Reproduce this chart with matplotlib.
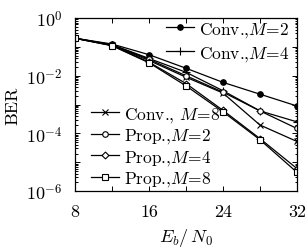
import numpy as np
import matplotlib
matplotlib.use("Agg")
import matplotlib.pyplot as plt
import matplotlib.ticker as ticker

plt.rcParams['mathtext.fontset'] = 'cm'
plt.rcParams['font.family'] = ['cmr10', 'DejaVu Serif']
plt.rcParams['axes.formatter.use_mathtext'] = True

snr = [8, 12, 16, 20, 24, 28, 32]

# log10(BER)
conv_m2 = [-0.70, -0.90, -1.27, -1.74, -2.23, -2.64, -3.05]
conv_m4 = [-0.70, -0.92, -1.40, -1.88, -2.52, -3.22, -3.60]
conv_m8 = [-0.70, -0.95, -1.47, -2.05, -2.60, -3.71, -4.28]
prop_m2 = [-0.70, -0.93, -1.43, -2.00, -2.57, -3.22, -3.83]
prop_m4 = [-0.70, -0.95, -1.53, -2.27, -3.20, -4.18, -5.22]
prop_m8 = [-0.70, -0.96, -1.55, -2.35, -3.25, -4.22, -5.35]

xticks = [8, 12, 16, 20, 24, 28, 32]
xlabels = ['8', '', '16', '', '24', '', '32']

fig = plt.figure(figsize=(3.08, 2.51), dpi=100)
ax = fig.add_axes([0.2435, 0.235, 0.7205, 0.689])

kw = dict(color='black', lw=0.9, ms=4, mew=0.8)
p1, = ax.semilogy(snr, 10 ** np.array(conv_m2), marker='o', mfc='black', **kw)
p2, = ax.semilogy(snr, 10 ** np.array(conv_m4), marker='+', ms=6, color='black', lw=0.9, mew=0.8)
p3, = ax.semilogy(snr, 10 ** np.array(conv_m8), marker='x', **kw)
p4, = ax.semilogy(snr, 10 ** np.array(prop_m2), marker='o', mfc='white', **kw)
p5, = ax.semilogy(snr, 10 ** np.array(prop_m4), marker='D', ms=3.5, mfc='white', color='black', lw=0.9, mew=0.8)
p6, = ax.semilogy(snr, 10 ** np.array(prop_m8), marker='s', mfc='white', **kw)

ax.set_xlim(8, 32)
ax.set_ylim(1e-6, 1)
ax.set_xticks(xticks)
ax.set_xticklabels(xlabels, fontsize=13)
ax.set_yticks([1e0, 1e-1, 1e-2, 1e-3, 1e-4, 1e-5, 1e-6])
ax.set_yticklabels(['$10^{0}$', '', '$10^{-2}$', '', '$10^{-4}$', '', '$10^{-6}$'], fontsize=13)
ax.yaxis.set_minor_locator(ticker.LogLocator(base=10, subs=np.arange(2, 10), numticks=20))
ax.yaxis.set_minor_formatter(ticker.NullFormatter())
ax.tick_params(which='both', direction='in', top=True, right=True, width=0.7)
ax.tick_params(which='major', length=3.5)
ax.tick_params(axis='x', which='major', pad=9)
ax.tick_params(axis='y', which='major', pad=9)
ax.tick_params(which='minor', length=1.8)
for s in ax.spines.values():
    s.set_linewidth(0.9)

ax.set_xlabel('$E_b/\\,N_0$', fontsize=13, labelpad=5)
ax.set_ylabel('BER', fontsize=13, labelpad=4)

leg1 = ax.legend([p1, p2], ['Conv.,$M\\!=\\!2$', 'Conv.,$M\\!=\\!4$'],
                 loc='upper right', frameon=False, fontsize=12.5, handlelength=1.6,
                 handletextpad=0.3, borderaxespad=0.0, labelspacing=0.3,
                 bbox_to_anchor=(1.0, 1.03))
ax.add_artist(leg1)
ax.legend([p3, p4, p5, p6],
          ['Conv., $M\\!=\\!8$', 'Prop.,$M\\!=\\!2$',
           'Prop.,$M\\!=\\!4$', 'Prop.,$M\\!=\\!8$'],
          loc='lower left', frameon=False, fontsize=12.5, handlelength=1.6,
          handletextpad=0.3, borderaxespad=0.0, labelspacing=0.15,
          bbox_to_anchor=(0.04, -0.025))

fig.savefig('out.png', dpi=100)
